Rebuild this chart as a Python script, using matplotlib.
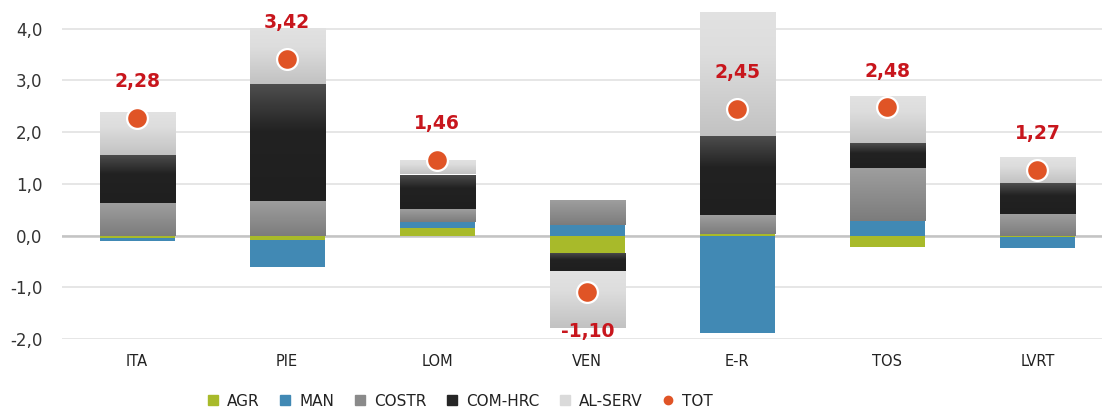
import matplotlib
matplotlib.use('Agg')
import matplotlib.pyplot as plt
import numpy as np
from matplotlib.colors import LinearSegmentedColormap
from matplotlib.lines import Line2D

regions = ['ITA', 'PIE', 'LOM', 'VEN', 'E-R', 'TOS', 'LVRT']
agr = [-0.04, -0.08, 0.14, -0.33, 0.03, -0.22, -0.02]
man = [-0.06, -0.52, 0.13, 0.21, -1.88, 0.29, -0.22]
costr = [0.63, 0.66, 0.25, 0.48, 0.36, 1.02, 0.42]
com_hrc = [0.93, 2.26, 0.66, -0.36, 1.54, 0.47, 0.59]
al_serv = [0.82, 1.10, 0.28, -1.10, 2.40, 0.92, 0.50]
tot = [2.28, 3.42, 1.46, -1.10, 2.45, 2.48, 1.27]
tot_labels = ['2,28', '3,42', '1,46', '-1,10', '2,45', '2,48', '1,27']

# colour stops (position, colour) from top to bottom of each segment
series = [
    ('AGR', agr, [(0, '#a8ba2a'), (1, '#a8ba2a')]),
    ('MAN', man, [(0, '#4189b4'), (1, '#4189b4')]),
    ('COSTR', costr, [(0, '#9e9e9e'), (1, '#7c7c7c')]),
    ('COM-HRC', com_hrc, [(0, '#4e4e4e'), (0.4, '#222222'), (1, '#1f1f1f')]),
    ('AL-SERV', al_serv, [(0, '#e2e2e2'), (0.35, '#dddddd'), (1, '#c2c2c2')]),
]

plt.rcParams['font.family'] = ['DejaVu Sans']

fig = plt.figure(figsize=(11.02, 4.09), dpi=100)
ax = fig.add_axes([62 / 1102, 1 - 339 / 409, 1 - 62 / 1102, 329 / 409])

x = np.arange(len(regions))
w = 0.5
pos_base = np.zeros(len(regions))
neg_base = np.zeros(len(regions))

for name, vals, stops in series:
    vals = np.array(vals)
    bottoms = np.where(vals >= 0, pos_base, neg_base)
    bars = ax.bar(x, vals, w, bottom=bottoms, color=stops[0][1], linewidth=0, zorder=2)
    if stops[0][1] != stops[-1][1]:
        cmap = LinearSegmentedColormap.from_list(name, stops)
        grad = np.linspace(0, 1, 256).reshape(-1, 1)
        for b in bars:
            b.set_facecolor('none')
            x0, y0 = b.get_x(), b.get_y()
            x1, y1 = x0 + b.get_width(), y0 + b.get_height()
            lo, hi = min(y0, y1), max(y0, y1)
            im = ax.imshow(grad, cmap=cmap, extent=(x0, x1, lo, hi), origin='upper',
                           aspect='auto', zorder=2, interpolation='bilinear')
            im.set_clip_path(b)
    pos_base = pos_base + np.where(vals >= 0, vals, 0)
    neg_base = neg_base + np.where(vals < 0, vals, 0)

ax.plot(x, tot, 'o', color='#e05426', markersize=15, markeredgecolor='white',
        markeredgewidth=1.6, linestyle='none', zorder=4)

for xi, t, lab in zip(x, tot, tot_labels):
    off = 0.7 if t >= 0 else -0.76
    ax.text(xi, t + off, lab, ha='center', va='center', color='#c8161d',
            fontsize=13.5, fontweight='bold', zorder=5)

ax.set_xlim(-0.5, 6.43)
ax.set_ylim(-2.0, 4.36)
ax.set_yticks([-2, -1, 0, 1, 2, 3, 4])
ax.set_yticklabels(['-2,0', '-1,0', '0,0', '1,0', '2,0', '3,0', '4,0'], fontsize=12, color='#333333')
ax.set_xticks(x)
ax.set_xticklabels(regions, fontsize=10.5, color='#222222')
ax.tick_params(axis='both', length=0)
ax.tick_params(axis='x', pad=11)
ax.tick_params(axis='y', pad=14)
ax.grid(axis='y', color='#e2e2e2', linewidth=1.2, zorder=0)
ax.set_axisbelow(True)
ax.axhline(0, color='#c4c4c4', linewidth=1.8, zorder=1)
for s in ax.spines.values():
    s.set_visible(False)

handles = [
    Line2D([], [], marker='s', linestyle='none', color='#a8ba2a', markersize=7),
    Line2D([], [], marker='s', linestyle='none', color='#4189b4', markersize=7),
    Line2D([], [], marker='s', linestyle='none', color='#8a8a8a', markersize=7),
    Line2D([], [], marker='s', linestyle='none', color='#262626', markersize=7),
    Line2D([], [], marker='s', linestyle='none', color='#dadada', markersize=7),
    Line2D([], [], marker='o', linestyle='none', color='#e05426', markersize=6),
]
fig.legend(handles, ['AGR', 'MAN', 'COSTR', 'COM-HRC', 'AL-SERV', 'TOT'],
           loc='center', bbox_to_anchor=(460 / 1102, 1 - 401 / 409), ncol=6,
           frameon=False, fontsize=11, handletextpad=0.5, columnspacing=1.3,
           handlelength=0.8, labelcolor='#222222')

fig.savefig('out.png', dpi=100)
